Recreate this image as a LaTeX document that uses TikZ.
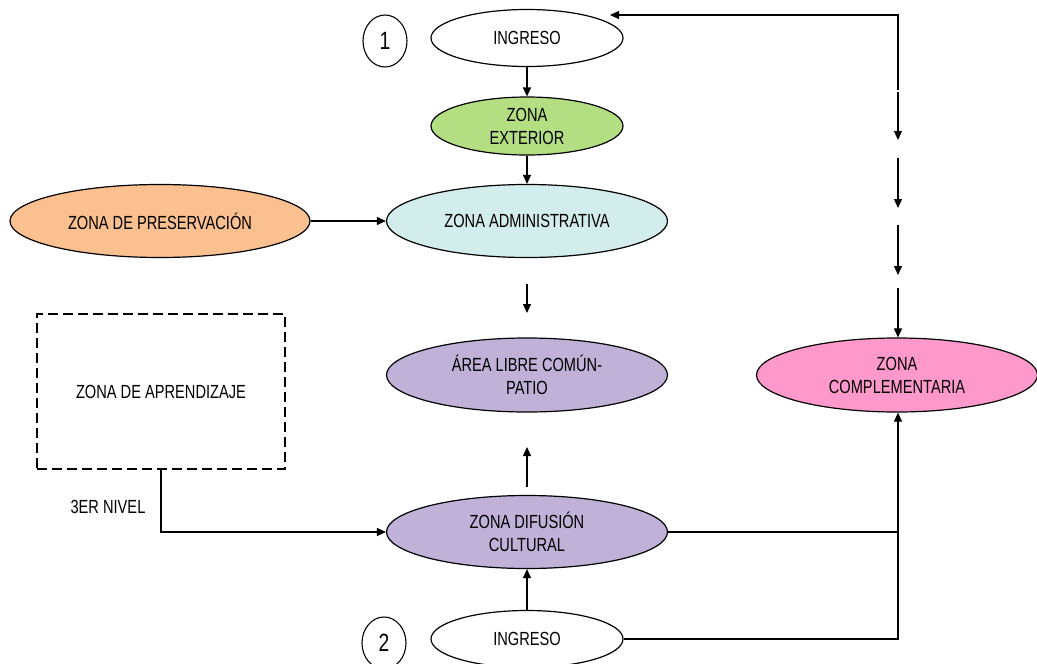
\documentclass[tikz,border=0pt]{standalone}
\usepackage{fontspec}
\setmainfont{Liberation Sans}[FakeStretch=0.77]
\usetikzlibrary{shapes.geometric,arrows.meta}
\definecolor{cgreen}{HTML}{B3DE81}
\definecolor{ccyan}{HTML}{D3ECEC}
\definecolor{corange}{HTML}{FAC08F}
\definecolor{clav}{HTML}{BFB1D7}
\definecolor{cpink}{HTML}{FF99CC}
\tikzset{
  zone/.style={ellipse, draw=black, line width=1.2pt, inner sep=0pt, align=center,
    font=\fontsize{19}{23}\selectfont},
  numc/.style={ellipse, draw=black, line width=1.1pt, inner sep=0pt,
    minimum width=44pt, minimum height=52pt, font=\fontsize{25}{28}\selectfont},
  conn/.style={line width=1.2pt, draw=black},
  arr/.style={conn, -{Triangle[length=9pt,width=8pt]}},
  plain/.style={font=\fontsize{19}{23}\selectfont, inner sep=0pt}
}
\begin{document}
\begin{tikzpicture}[x=1pt,y=-1pt]
\useasboundingbox (0,0) rectangle (1037,664);
% nodes
\node[numc] (n1) at (385,41) {1};
\node[numc] (n2) at (384,643) {2};
\node[zone, fill=white, minimum width=192pt, minimum height=57pt] (ing1) at (527,38) {INGRESO};
\node[zone, fill=cgreen, minimum width=192pt, minimum height=58pt] (ext) at (527,126) {ZONA\\EXTERIOR};
\node[zone, fill=ccyan, minimum width=281pt, minimum height=73pt] (adm) at (527,221) {ZONA ADMINISTRATIVA};
\node[zone, fill=corange, minimum width=300pt, minimum height=73pt] (pres) at (160,221) {ZONA DE PRESERVACIÓN};
\node[zone, fill=clav, minimum width=281pt, minimum height=74pt] (patio) at (527,375) {ÁREA LIBRE COMÚN-\\PATIO};
\node[zone, fill=clav, minimum width=281pt, minimum height=73pt] (dif) at (527,532) {ZONA DIFUSIÓN\\CULTURAL};
\node[zone, fill=white, minimum width=192pt, minimum height=57pt] (ing2) at (527,639) {INGRESO};
\node[zone, fill=cpink, minimum width=281pt, minimum height=74pt] (comp) at (897,375) {ZONA\\COMPLEMENTARIA};
\node[draw=black, line width=1.2pt, dash pattern=on 10pt off 5pt, minimum width=248pt, minimum height=155pt,
  inner sep=0pt, font=\fontsize{19}{23}\selectfont] (apr) at (161,391.5) {ZONA DE APRENDIZAJE};
\node[plain] (nivel) at (108,507) {3ER NIVEL};
% coordinates for free ends
\coordinate (m1) at (527,284);
\coordinate (m2) at (527,313);
\coordinate (u1) at (527,487);
\coordinate (u2) at (527,447);
\coordinate (r0) at (898,90);
\coordinate (rt) at (898,15);
\coordinate (tip) at (610,15);
\coordinate (s1a) at (898,92);  \coordinate (s1b) at (898,140);
\coordinate (s2a) at (898,158); \coordinate (s2b) at (898,208);
\coordinate (s3a) at (898,225); \coordinate (s3b) at (898,275);
\coordinate (s4a) at (898,288);
\coordinate (j1) at (898,532);
\coordinate (j2) at (898,639);
% connectors
\draw[arr] (ing1) -- (ext);
\draw[arr] (ext) -- (adm);
\draw[arr] (pres) -- (adm);
\draw[arr] (m1) -- (m2);
\draw[arr] (u1) -- (u2);
\draw[arr] (ing2) -- (dif);
\draw[arr] (apr.south) |- (dif.west);
\draw[conn] (dif.east) -- (j1);
\draw[arr] (ing2.east) -- (j2) -- (comp.south -| j2);
\draw[arr] (r0) -- (rt) -- (tip);
\draw[arr] (s1a) -- (s1b);
\draw[arr] (s2a) -- (s2b);
\draw[arr] (s3a) -- (s3b);
\draw[arr] (s4a) -- (comp.north -| s4a);
\end{tikzpicture}
\end{document}
